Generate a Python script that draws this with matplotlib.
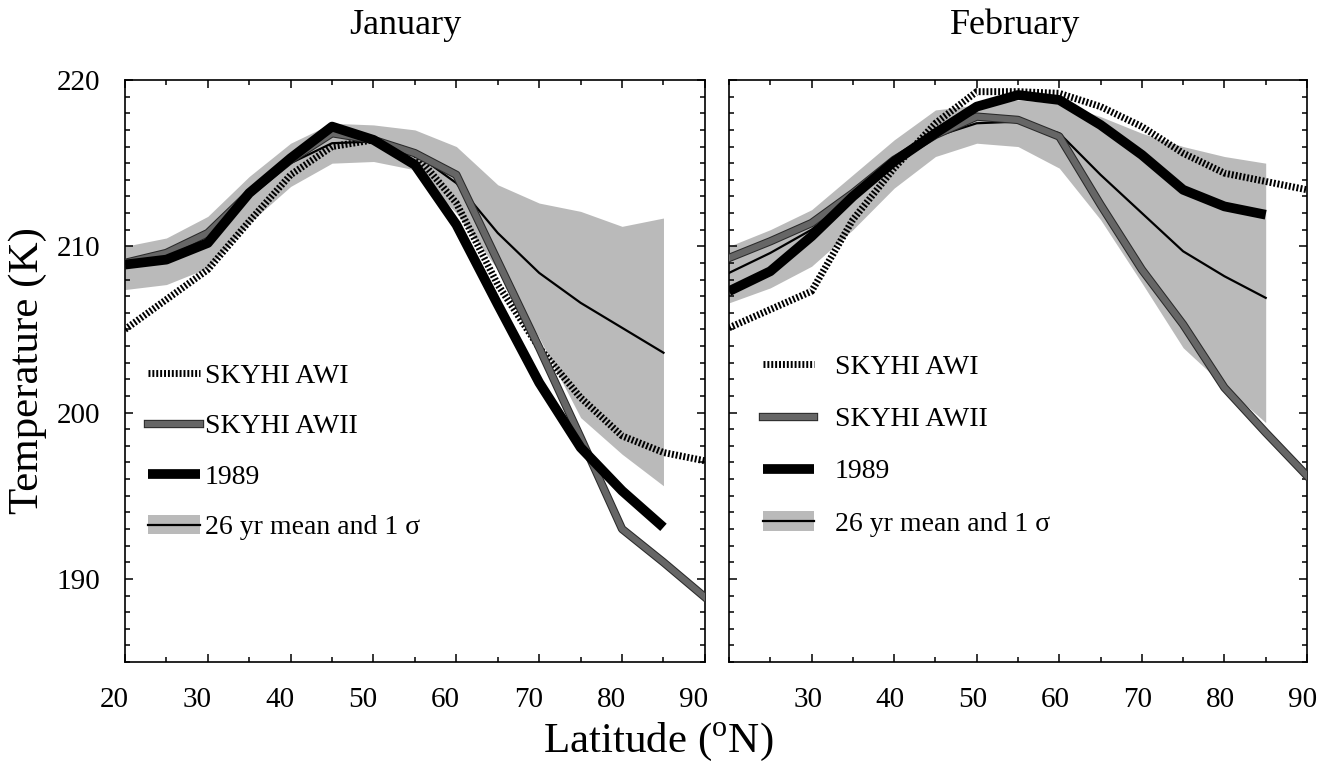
import numpy as np
import matplotlib
matplotlib.use('Agg')
from matplotlib import pyplot as plt
from matplotlib import patheffects as pe
from matplotlib.patches import Patch
from matplotlib.transforms import ScaledTranslation

plt.rcParams['font.family'] = ['Liberation Serif', 'DejaVu Serif']
plt.rcParams['mathtext.fontset'] = 'custom'
plt.rcParams['mathtext.rm'] = 'Liberation Serif'

# latitudes (deg N)
lat_full = [20, 25, 30, 35, 40, 45, 50, 55, 60, 65, 70, 75, 80, 85, 90]
lat_obs = [20, 25, 30, 35, 40, 45, 50, 55, 60, 65, 70, 75, 80, 85]

# January temperatures (K)
jan_awi = [205.0, 206.8, 208.6, 211.5, 214.3, 216.0, 216.4, 215.6, 212.6, 207.7, 203.9, 200.9, 198.6, 197.6, 197.1]
jan_awii = [209.0, 209.6, 210.8, 213.2, 215.2, 216.8, 216.4, 215.6, 214.3, 209.1, 203.9, 198.5, 193.0, 191.0, 188.9]
jan_1989 = [208.9, 209.2, 210.2, 213.2, 215.3, 217.2, 216.4, 214.9, 211.3, 206.5, 201.8, 197.9, 195.3, 193.1]
jan_mean = [208.8, 209.4, 210.8, 213.2, 215.0, 216.2, 216.3, 215.6, 213.8, 210.8, 208.4, 206.6, 205.1, 203.6]
jan_hi = [210.0, 210.5, 211.8, 214.2, 216.2, 217.4, 217.3, 217.0, 216.0, 213.7, 212.6, 212.1, 211.2, 211.7]
jan_lo = [207.4, 207.7, 208.7, 211.4, 213.6, 215.0, 215.1, 214.6, 212.0, 208.6, 204.5, 199.7, 197.5, 195.6]

# February temperatures (K)
feb_awi = [205.1, 206.2, 207.3, 211.6, 214.7, 217.4, 219.3, 219.3, 219.2, 218.4, 217.2, 215.6, 214.4, 213.9, 213.4]
feb_awii = [209.3, 210.3, 211.4, 213.2, 215.2, 216.7, 217.8, 217.6, 216.6, 212.5, 208.6, 205.3, 201.5, 198.8, 196.2]
feb_1989 = [207.3, 208.5, 210.6, 213.0, 215.1, 216.8, 218.4, 219.1, 218.8, 217.3, 215.5, 213.4, 212.4, 211.9]
feb_mean = [208.4, 209.6, 211.0, 213.0, 215.0, 216.6, 217.4, 217.5, 216.8, 214.3, 212.0, 209.7, 208.2, 206.9]
feb_hi = [210.0, 211.0, 212.2, 214.3, 216.4, 218.2, 218.5, 218.8, 218.6, 217.8, 216.8, 216.0, 215.4, 215.0]
feb_lo = [206.6, 207.5, 208.8, 211.0, 213.5, 215.4, 216.2, 216.0, 214.7, 211.6, 207.8, 203.9, 201.6, 199.4]

band_col = '#bababa'
awii_col = '#666666'


def draw_panel(ax, awi, awii, y89, mean, hi, lo):
    ax.fill_between(lat_obs, lo, hi, color=band_col, lw=0, zorder=1)
    l_awi, = ax.plot(lat_full, awi, color='black', lw=5, ls=(0, (0.28, 0.28)),
                     solid_capstyle='butt', dash_capstyle='butt', zorder=2)
    l_mean, = ax.plot(lat_obs, mean, color='black', lw=1.6, zorder=3)
    l_awii, = ax.plot(lat_full, awii, color=awii_col, lw=4.5, zorder=4,
                      path_effects=[pe.Stroke(linewidth=6, foreground='#2a2a2a'), pe.Normal()])
    l_89, = ax.plot(lat_obs, y89, color='black', lw=7, zorder=5, solid_capstyle='butt')
    band = Patch(facecolor=band_col, edgecolor='none')
    return [l_awi, l_awii, l_89, (band, l_mean)]


def style_axes(ax):
    ax.set_xlim(20, 90)
    ax.set_ylim(185, 220)
    ax.set_yticks([190, 200, 210, 220])
    ax.set_yticks(np.arange(185, 221, 1), minor=True)
    ax.set_xticks(np.arange(20, 91, 5), minor=True)
    ax.tick_params(which='both', direction='in', top=True, right=True, width=1.1)
    ax.tick_params(which='major', length=5.5, labelsize=21, pad=18)
    ax.tick_params(which='minor', length=3.6)
    for s in ax.spines.values():
        s.set_linewidth(1.2)


fig = plt.figure(figsize=(13.25, 7.65), dpi=100)
ax1 = fig.add_axes([0.0943, 0.1346, 0.4377, 0.7608])
ax2 = fig.add_axes([0.5502, 0.1346, 0.4362, 0.7608])

labels = ['SKYHI AWI', 'SKYHI AWII', '1989', '26 yr mean and 1 \u03c3']

h1 = draw_panel(ax1, jan_awi, jan_awii, jan_1989, jan_mean, jan_hi, jan_lo)
style_axes(ax1)
ax1.set_xticks([20, 30, 40, 50, 60, 70, 80, 90])
off = ScaledTranslation(-0.11, 0, fig.dpi_scale_trans)
for t in ax1.xaxis.get_major_ticks():
    t.label1.set_transform(t.label1.get_transform() + off)
ax1.legend(h1, labels, loc='upper left', bbox_to_anchor=(0.04, 0.513), frameon=False,
           fontsize=20, handlelength=1.85, handletextpad=0.2, labelspacing=0.9,
           borderpad=0, borderaxespad=0)

h2 = draw_panel(ax2, feb_awi, feb_awii, feb_1989, feb_mean, feb_hi, feb_lo)
style_axes(ax2)
ax2.set_xticks([30, 40, 50, 60, 70, 80, 90])
ax2.set_yticklabels([])
off2 = ScaledTranslation(-0.04, 0, fig.dpi_scale_trans)
for t in ax2.xaxis.get_major_ticks():
    t.label1.set_transform(t.label1.get_transform() + off2)
ax2.legend(h2, labels, loc='upper left', bbox_to_anchor=(0.058, 0.528), frameon=False,
           fontsize=20, handlelength=1.85, handletextpad=0.75, labelspacing=0.96,
           borderpad=0, borderaxespad=0)

fig.text(0.3057, 0.967, 'January', ha='center', va='center', fontsize=26)
fig.text(0.766, 0.967, 'February', ha='center', va='center', fontsize=26)
fig.text(0.021, 0.516, 'Temperature (K)', rotation=90, ha='center', va='center', fontsize=31)
fig.text(0.497, 0.030, 'Latitude ($^{\\rm o}$N)', ha='center', va='center', fontsize=31)

fig.savefig('out.png', dpi=100)
